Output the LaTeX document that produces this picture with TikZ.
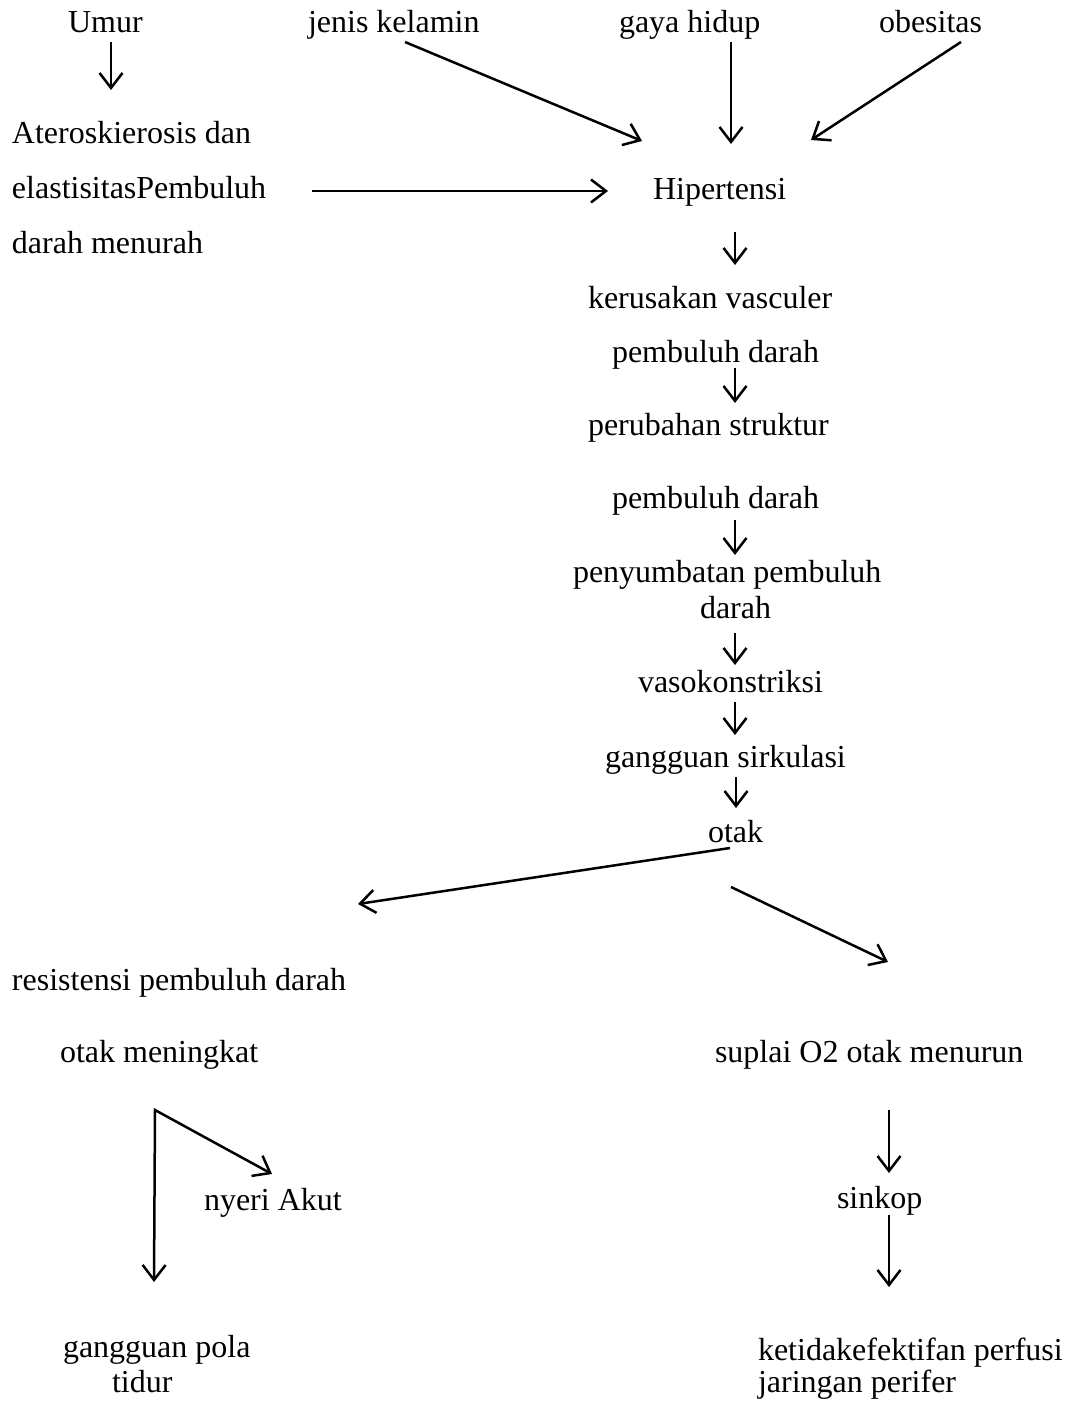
\documentclass[tikz,border=0pt]{standalone}
\usepackage{fontspec}
\setmainfont{Liberation Serif}
\usetikzlibrary{arrows.meta}
\begin{document}
\begin{tikzpicture}[x=1pt,y=-1pt,
  lbl/.style={anchor=base west,inner sep=0pt,outer sep=0pt,font=\fontsize{32}{38}\selectfont},
  arr/.style={line width=2.5pt,-{Straight Barb[length=15pt,width=23pt,line width=2.5pt]}},
  arr2/.style={line width=2.5pt,line join=miter,{Straight Barb[length=15pt,width=23pt,line width=2.5pt]}-{Straight Barb[length=15pt,width=23pt,line width=2.5pt]}}]
\useasboundingbox[fill=white] (0,0) rectangle (1080,1402);
% texts
\node[lbl] (umur) at (68,33) {Umur};
\node[lbl] (jenis) at (308,33) {jenis kelamin};
\node[lbl] (gaya) at (619,33) {gaya hidup};
\node[lbl] (obes) at (879,33) {obesitas};
\node[lbl] (ater1) at (12,143) {Ateroskierosis dan};
\node[lbl] (ater2) at (12,198) {elastisitasPembuluh};
\node[lbl] (ater3) at (12,253) {darah menurah};
\node[lbl] (hiper) at (653,199) {Hipertensi};
\node[lbl] (kerus) at (588,308) {kerusakan vasculer};
\node[lbl] (pda) at (612,362) {pembuluh darah};
\node[lbl] (perub) at (588,435) {perubahan struktur};
\node[lbl] (pdb) at (612,508) {pembuluh darah};
\node[lbl] (penyum) at (573,582) {penyumbatan pembuluh};
\node[lbl] (darah) at (700,618) {darah};
\node[lbl] (vaso) at (638,692) {vasokonstriksi};
\node[lbl] (gang) at (605,767) {gangguan sirkulasi};
\node[lbl] (otak) at (708,842) {otak};
\node[lbl] (resis) at (12,990) {resistensi pembuluh darah};
\node[lbl] (otakm) at (60,1062) {otak meningkat};
\node[lbl] (nyeri) at (204,1210) {nyeri Akut};
\node[lbl] (gpola) at (63,1357) {gangguan pola};
\node[lbl] (tidur) at (112,1392) {tidur};
\node[lbl] (suplai) at (715,1062) {suplai O2 otak menurun};
\node[lbl] (sinkop) at (837,1208) {sinkop};
\node[lbl] (keti) at (758,1360) {ketidakefektifan perfusi};
\node[lbl] (jar) at (758,1392) {jaringan perifer};
% connector end points
\coordinate (u1) at (111,42);   \coordinate (u2) at (111,90);
\coordinate (j1) at (405,42);   \coordinate (j2) at (642,141);
\coordinate (g1) at (731,42);   \coordinate (g2) at (731,144);
\coordinate (o1) at (961,42);   \coordinate (o2) at (811,140);
\coordinate (e1) at (312,191);  \coordinate (e2) at (608,191);
\coordinate (h1) at (735,232);  \coordinate (h2) at (735,265);
\coordinate (p1) at (735,368);  \coordinate (p2) at (735,403);
\coordinate (q1) at (735,520);  \coordinate (q2) at (735,555);
\coordinate (d1) at (735,633);  \coordinate (d2) at (735,665);
\coordinate (v1) at (735,702);  \coordinate (v2) at (735,735);
\coordinate (s1) at (736,777);  \coordinate (s2) at (736,808);
\coordinate (l1) at (730,848);  \coordinate (l2) at (358,904);
\coordinate (r1) at (731,887);  \coordinate (r2) at (888,962);
\coordinate (n2) at (272,1174); \coordinate (k0) at (155,1110); \coordinate (t2) at (154,1282);
\coordinate (x1) at (889,1110); \coordinate (x2) at (889,1173);
\coordinate (y1) at (889,1215); \coordinate (y2) at (889,1287);
% connectors
\draw[arr] (u1) -- (u2);
\draw[arr] (j1) -- (j2);
\draw[arr] (g1) -- (g2);
\draw[arr] (o1) -- (o2);
\draw[arr] (e1) -- (e2);
\draw[arr] (h1) -- (h2);
\draw[arr] (p1) -- (p2);
\draw[arr] (q1) -- (q2);
\draw[arr] (d1) -- (d2);
\draw[arr] (v1) -- (v2);
\draw[arr] (s1) -- (s2);
\draw[arr] (l1) -- (l2);
\draw[arr] (r1) -- (r2);
\draw[arr2] (n2) -- (k0) -- (t2);
\draw[arr] (x1) -- (x2);
\draw[arr] (y1) -- (y2);
\end{tikzpicture}
\end{document}
